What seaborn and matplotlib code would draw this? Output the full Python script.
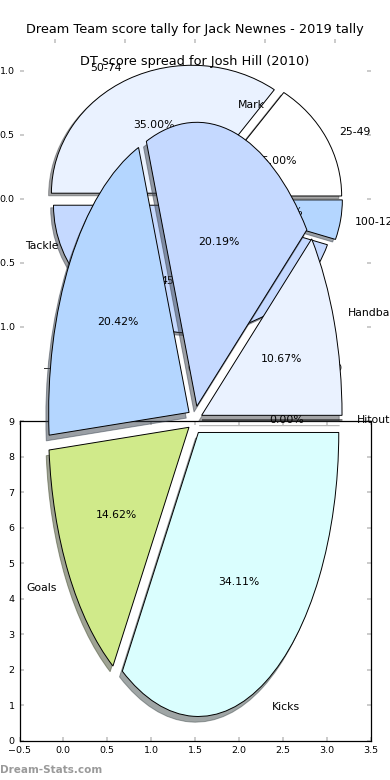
import matplotlib
matplotlib.use('Agg')
import matplotlib.pyplot as plt
import seaborn as sns

# ---- data ----
jack_labels = ['25-49', '50-74', '75-99', '100-124']
jack_values = [15.0, 35.0, 45.0, 5.0]
josh_labels = ['Hitout', 'Handball', 'Mark', 'Tackle', 'Goals', 'Kicks']
josh_values = [0.00, 10.67, 20.19, 20.42, 14.62, 34.11]
jack_title = 'Dream Team score tally for Jack Newnes - 2019 tally'
josh_title = 'DT score spread for Josh Hill (2010)'
top_ticks = [-1.0, -0.5, 0.0, 0.5, 1.0]
lower_xticks = [-0.5, 0.0, 0.5, 1.0, 1.5, 2.0, 2.5, 3.0, 3.5]
lower_yticks = [0, 1, 2, 3, 4, 5, 6, 7, 8, 9]
watermark = 'Dream-Stats.com'

sns.set_style('white')
plt.rcParams['font.family'] = ['DejaVu Sans']
plt.rcParams['text.color'] = 'black'
plt.rcParams['axes.labelcolor'] = 'black'
plt.rcParams['axes.titlecolor'] = 'black'
plt.rcParams['xtick.labelcolor'] = 'black'
plt.rcParams['ytick.labelcolor'] = 'black'
palette = sns.color_palette(['#ffffff', '#eaf2ff', '#c5d9ff', '#b4d6ff',
                             '#d0ea8a', '#dafefe'])

DPI = 100
fig = plt.figure(figsize=(3.9, 7.8), dpi=DPI)
fig.patch.set_facecolor('white')

shadow = {'ox': -0.02 * 72 / DPI, 'oy': -0.02 * 72 / DPI}
wp = {'edgecolor': 'black', 'linewidth': 0.7}
tp = {'fontsize': 7.8, 'color': 'black'}
tick_kw = dict(direction='in', length=3, width=1.1, color='#bdbdbd',
               labelcolor='black', labelsize=6.8,
               top=True, right=True, bottom=True, left=True)

# ---- top pie (Jack Newnes) ----
ax1 = fig.add_axes([0.05, 0.54, 0.90, 0.41])
ax1.pie(jack_values, labels=jack_labels, colors=palette[:len(jack_values)],
        explode=[0.05] * len(jack_values), autopct='%1.2f%%',
        shadow=shadow, wedgeprops=wp, textprops=tp)
ax1.set_aspect('auto')
ax1.set_xlim(-1.25, 1.25)
ax1.set_ylim(-1.25, 1.25)
ax1.set_xticks(top_ticks)
ax1.set_yticks(top_ticks)
ax1.tick_params(**tick_kw)
ax1.set_title(jack_title, fontsize=9.3, pad=4, color='black')

# ---- lower empty axes ----
ax3 = fig.add_axes([0.05, 0.05, 0.90, 0.41])
ax3.set_facecolor('white')
ax3.set_xlim(-0.5, 3.5)
ax3.set_ylim(0, 9)
ax3.set_xticks(lower_xticks)
ax3.set_yticks(lower_yticks)
ax3.tick_params(**tick_kw)
for s in ax3.spines.values():
    s.set_visible(True)
    s.set_color('black')
    s.set_linewidth(0.9)

# ---- Josh Hill pie (drawn on top) ----
ax2 = fig.add_axes([0.05, 0.05, 0.90, 0.86])
ax2.set_facecolor('none')
ax2.pie(josh_values, labels=josh_labels, colors=palette[:len(josh_values)],
        explode=[0.05] * len(josh_values), autopct='%1.2f%%',
        shadow=shadow, wedgeprops=wp, textprops=tp)
ax2.set_aspect('auto')
ax2.set_xlim(-1.25, 1.25)
ax2.set_ylim(-1.1303, 1.2317)
ax2.set_title(josh_title, fontsize=9.3, pad=4, color='black')

fig.text(0.0, 0.0128, watermark, fontsize=7.5, fontweight='bold',
         color='#9a9a9a', ha='left', va='center')

fig.savefig('out.png', dpi=DPI, facecolor='white')
